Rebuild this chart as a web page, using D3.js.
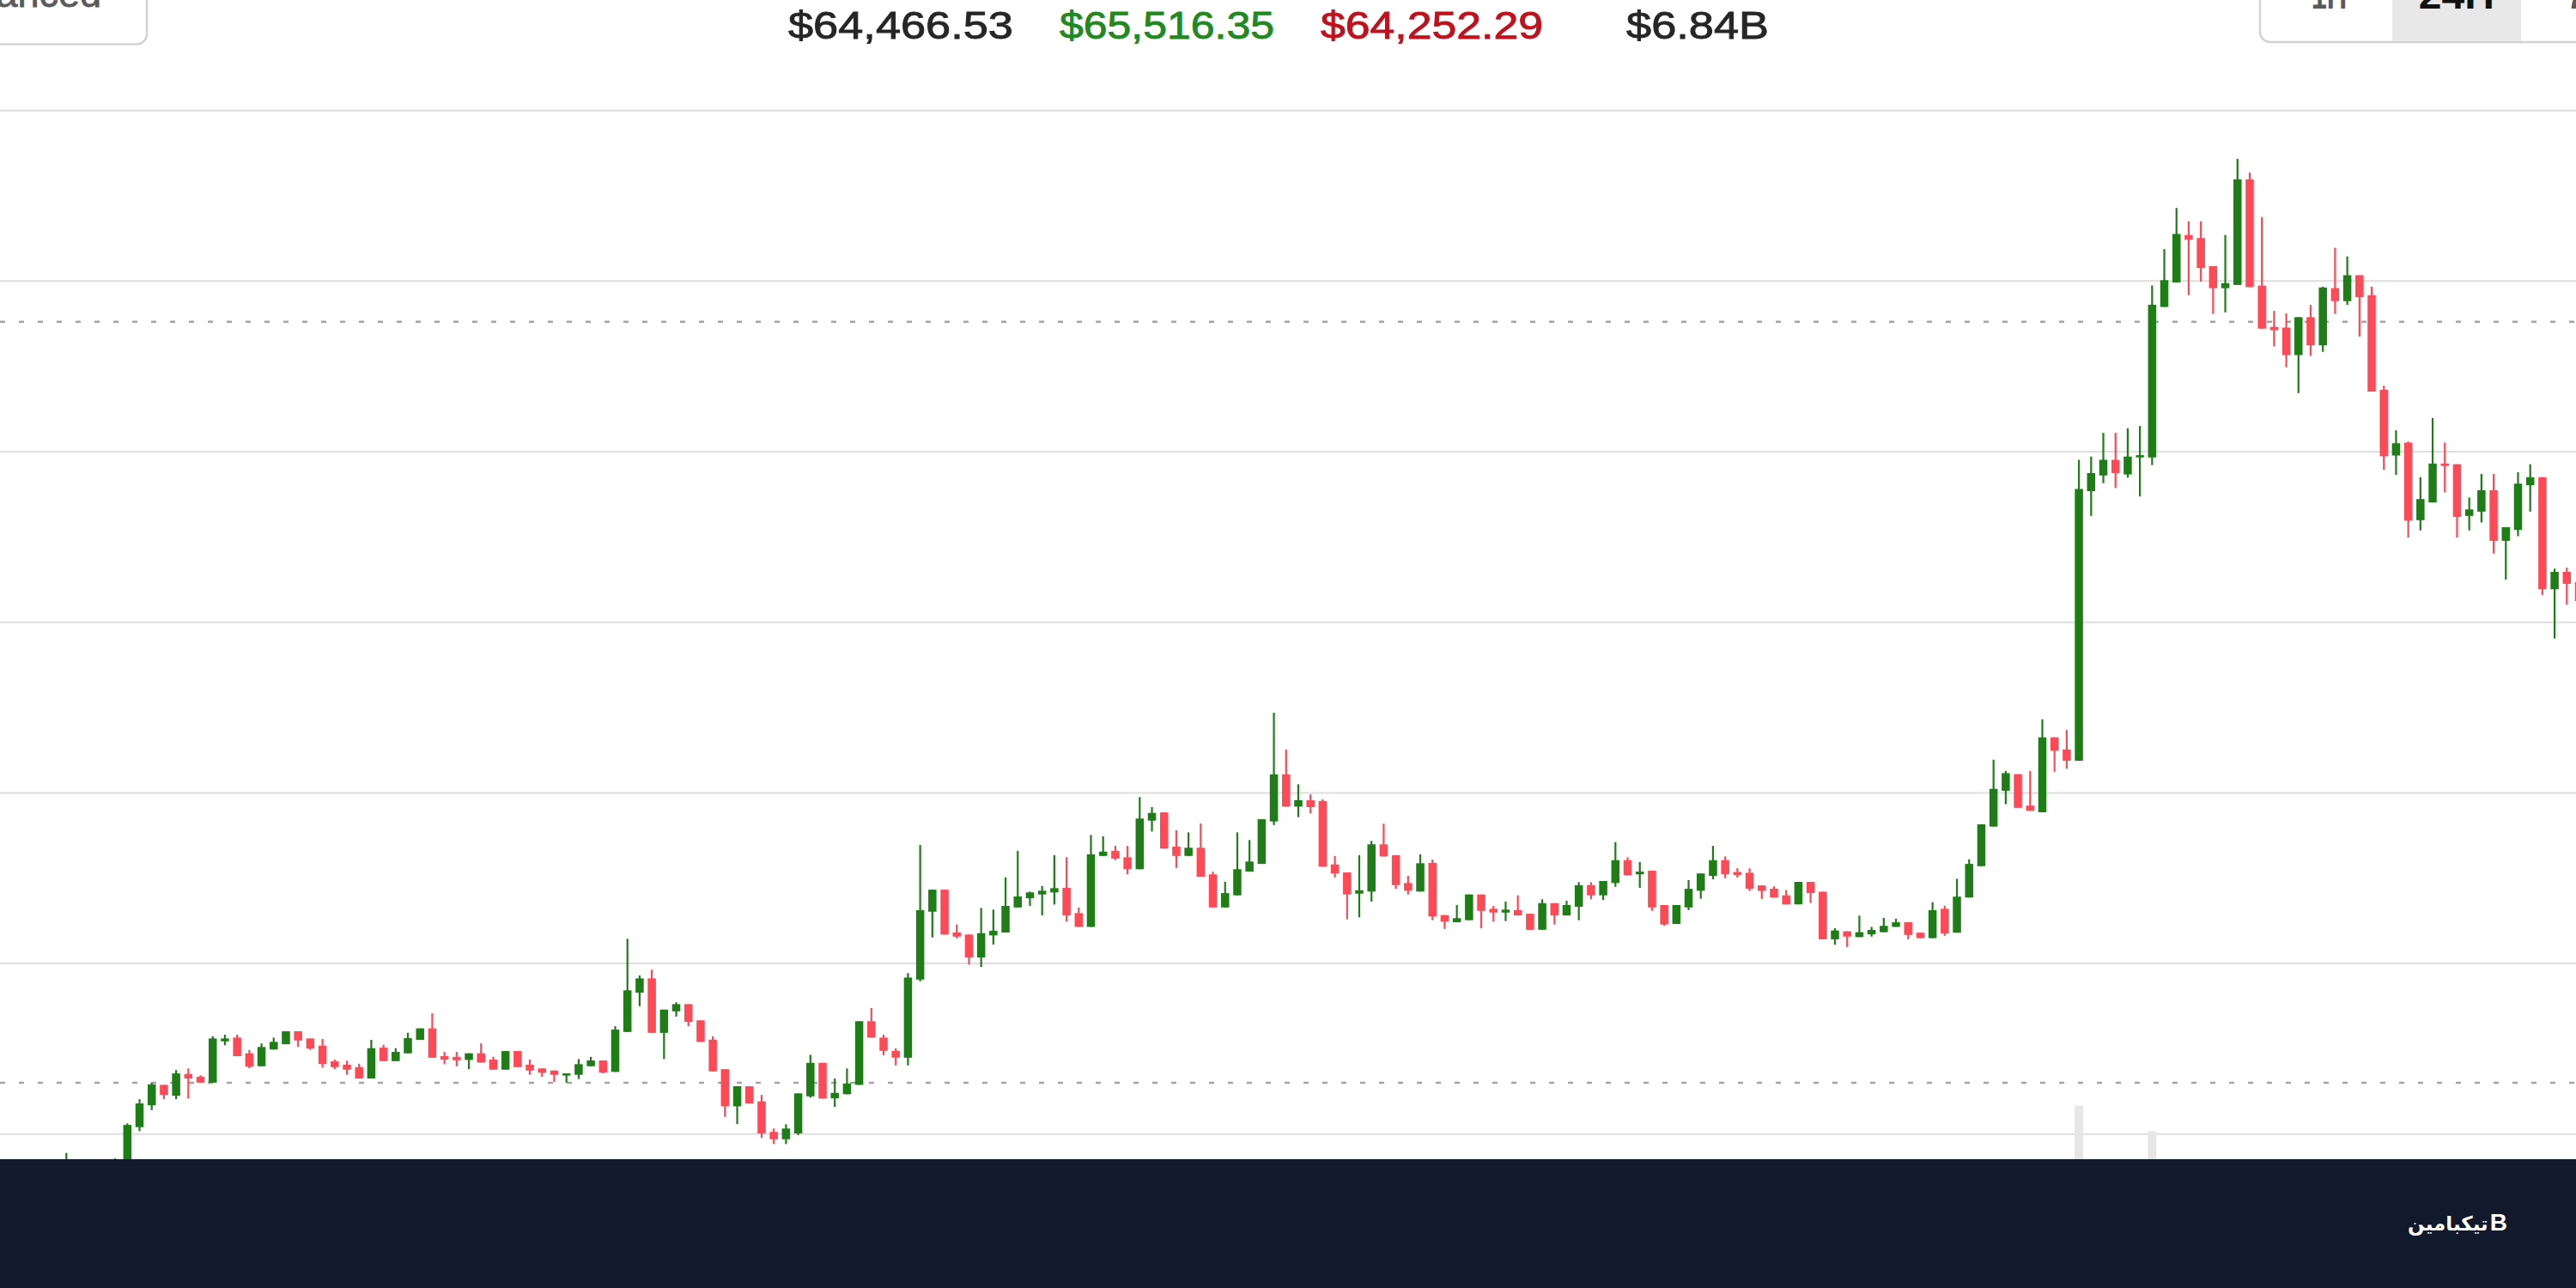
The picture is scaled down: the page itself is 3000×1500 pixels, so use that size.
<!DOCTYPE html>
<html>
<head>
<meta charset="utf-8">
<script src="https://cdn.jsdelivr.net/npm/d3@7"></script>
<style>
  html, body { margin: 0; padding: 0; background: #fff; overflow: hidden; }
  #chart { width: 3000px; height: 1500px; }
  text { font-family: "Liberation Sans", Arial, Helvetica, sans-serif; }
</style>
</head>
<body>
<div id="chart"></div>
<script>
// OHLC per candle (first ten sit under the footer band)
const opens = [
  64905, 64900, 64908, 64915, 64910, 64918, 64930, 64920, 64925, 64918,
  64928, 64953.8, 64966.6, 64978.6, 64972.2, 64985.0, 64983.3, 64979.9, 65004.1, 65006.3,
  64997.1, 64989.5, 64999.3, 65002.4, 65010.0, 65005.8, 65001.6, 64992.4, 64990.4, 64989.0,
  64982.3, 65000.4, 64992.5, 64997.1, 65005.0, 65011.7, 64995.4, 64995.0, 64993.2, 64997.1,
  64993.4, 64987.5, 64998.4, 64990.4, 64988.2, 64987.0, 64984.2, 64984.5, 64989.5, 64992.9,
  64986.2, 65009.6, 65032.6, 65041.0, 65009.1, 65021.7, 65025.9, 65016.4, 65005.1, 64987.8,
  64966.0, 64977.8, 64968.9, 64951.0, 64946.7, 64950.1, 64971.9, 64991.5, 64970.7, 64973.1,
  64978.6, 65015.9, 65006.3, 64998.5, 64994.5, 65040.3, 65080.1, 65093.0, 65067.9, 65066.7,
  65053.3, 65066.2, 65067.9, 65082.6, 65088.0, 65090.2, 65091.4, 65094.1, 65079.3, 65071.2,
  65112.8, 65115.8, 65112.0, 65105.0, 65133.5, 65138.3, 65118.2, 65112.8, 65117.6, 65102.0,
  65082.6, 65089.7, 65103.6, 65108.1, 65133.0, 65160.6, 65141.7, 65145.4, 65145.0, 65107.8,
  65103.1, 65090.7, 65091.9, 65119.6, 65113.2, 65096.9, 65091.9, 65108.7, 65078.1, 65073.9,
  65075.1, 65090.2, 65081.8, 65079.6, 65081.0, 65078.9, 65069.5, 65085.1, 65077.9, 65083.0,
  65095.7, 65089.7, 65096.9, 65110.3, 65102.0, 65104.1, 65084.0, 65072.9, 65082.6, 65092.4,
  65101.1, 65110.3, 65103.4, 65102.9, 65095.5, 65093.6, 65089.7, 65084.4, 65097.6, 65091.8,
  65063.9, 65068.6, 65065.2, 65066.8, 65068.1, 65071.2, 65073.9, 65067.8, 65064.6, 65081.8,
  65067.8, 65088.4, 65106.8, 65130.0, 65151.0, 65160.7, 65142.3, 65138.4, 65182.3, 65175.2,
  65168.6, 65326.6, 65335.8, 65345.0, 65336.4, 65346.4, 65346.4, 65434.6, 65449.0, 65476.8,
  65475.0, 65458.5, 65445.6, 65447.5, 65509.4, 65447.1, 65422.9, 65422.5, 65406.4, 65428.6,
  65412.1, 65445.6, 65438.0, 65453.2, 65441.5, 65386.0, 65347.5, 65355.1, 65309.6, 65320.0,
  65342.8, 65342.4, 65312.1, 65314.6, 65327.2, 65297.5, 65303.9, 65330.1, 65334.8, 65269.1,
  65279.3, 65273.3
]
const highs = [
  64915, 64912, 64920, 64925, 64922, 64938.7, 64933, 64928, 64930, 64935.5,
  64956, 64970.2, 64979.8, 64978.6, 64987.3, 64988.2, 64984.2, 65007.1, 65008.0, 65008.0,
  64999.1, 65002.9, 65006.3, 65010.0, 65010.0, 65005.8, 65005.5, 64993.4, 64992.7, 64991.0,
  65005.0, 65002.1, 65000.1, 65009.1, 65011.7, 65020.6, 64997.9, 64997.9, 64997.1, 65002.9,
  64995.0, 64998.4, 64998.4, 64993.4, 64988.2, 64987.0, 64985.3, 64993.7, 64995.0, 64992.9,
  65013.0, 65064.2, 65042.7, 65046.1, 65022.7, 65027.0, 65025.9, 65016.4, 65007.1, 64987.8,
  64977.8, 64977.8, 64972.7, 64953.0, 64955.5, 64973.6, 64996.2, 64991.5, 64982.3, 64988.2,
  65015.9, 65023.6, 65008.0, 65000.0, 65044.1, 65119.2, 65093.0, 65093.0, 65072.6, 65066.7,
  65082.3, 65081.3, 65100.2, 65115.8, 65091.9, 65095.2, 65113.2, 65112.0, 65082.6, 65125.1,
  65124.3, 65118.7, 65118.7, 65147.3, 65141.4, 65138.3, 65127.9, 65126.6, 65131.8, 65103.6,
  65097.7, 65126.6, 65122.1, 65134.3, 65196.7, 65175.2, 65154.8, 65148.9, 65146.0, 65112.8,
  65103.1, 65113.2, 65121.6, 65131.7, 65113.2, 65101.1, 65113.7, 65110.7, 65078.1, 65084.0,
  65090.2, 65090.2, 65083.5, 65086.0, 65089.7, 65078.9, 65087.4, 65085.1, 65086.5, 65097.4,
  65097.4, 65098.1, 65120.9, 65112.0, 65109.2, 65104.1, 65084.0, 65084.0, 65098.6, 65102.5,
  65118.7, 65112.5, 65105.6, 65105.5, 65095.5, 65095.0, 65092.8, 65097.6, 65097.6, 65091.8,
  65070.4, 65068.6, 65077.8, 65071.2, 65076.5, 65076.0, 65073.9, 65067.8, 65085.7, 65083.6,
  65099.4, 65110.8, 65131.3, 65169.2, 65162.6, 65160.7, 65162.6, 65192.9, 65182.3, 65186.6,
  65345.0, 65346.9, 65360.8, 65360.8, 65363.5, 65364.8, 65447.2, 65468.5, 65492.6, 65484.8,
  65484.8, 65458.5, 65476.8, 65521.4, 65513.4, 65487.3, 65432.3, 65430.8, 65428.6, 65435.8,
  65446.5, 65469.3, 65464.2, 65453.2, 65446.5, 65388.4, 65362.3, 65355.7, 65334.8, 65369.5,
  65355.1, 65342.4, 65322.9, 65336.7, 65336.7, 65305.5, 65337.7, 65342.4, 65334.8, 65281.2,
  65281.8, 65276.0
]
const lows = [
  64895, 64890, 64900, 64905, 64902, 64912, 64915, 64910, 64912, 64915,
  64926, 64951.5, 64963.8, 64970.2, 64970.2, 64970.6, 64979.9, 64979.9, 65001.8, 64995.4,
  64988.3, 64989.5, 64999.3, 65002.4, 65000.9, 64999.1, 64988.7, 64987.8, 64984.5, 64982.3,
  64982.3, 64992.5, 64992.5, 64997.1, 65005.0, 64994.5, 64990.7, 64989.5, 64987.8, 64991.7,
  64987.5, 64987.5, 64989.0, 64984.5, 64983.3, 64980.3, 64979.9, 64982.0, 64989.5, 64985.3,
  64986.2, 65009.6, 65024.7, 65009.1, 64993.7, 65018.6, 65013.0, 65003.8, 64986.5, 64959.8,
  64955.6, 64967.7, 64947.6, 64943.9, 64943.9, 64949.2, 64971.1, 64970.6, 64965.7, 64973.1,
  64978.6, 65006.3, 64996.0, 64990.0, 64990.0, 65039.3, 65065.0, 65066.7, 65064.5, 65049.1,
  65047.7, 65060.8, 65067.9, 65082.6, 65083.5, 65077.9, 65084.3, 65074.3, 65071.2, 65071.2,
  65112.8, 65110.3, 65102.0, 65105.0, 65127.1, 65117.1, 65105.8, 65112.8, 65100.6, 65082.6,
  65082.6, 65089.7, 65103.6, 65108.1, 65130.9, 65141.7, 65135.5, 65137.7, 65106.5, 65100.2,
  65075.6, 65076.8, 65086.0, 65112.5, 65093.5, 65090.2, 65091.9, 65075.1, 65070.0, 65073.9,
  65075.1, 65070.5, 65074.3, 65074.6, 65077.9, 65069.5, 65069.5, 65072.6, 65077.9, 65075.1,
  65087.4, 65086.9, 65094.7, 65101.4, 65094.1, 65080.6, 65071.8, 65072.9, 65081.0, 65087.7,
  65099.1, 65099.7, 65100.1, 65092.3, 65087.6, 65088.4, 65084.4, 65084.4, 65085.2, 65063.9,
  65060.7, 65059.4, 65065.2, 65065.5, 65068.1, 65071.2, 65063.9, 65064.6, 65064.6, 65066.0,
  65067.8, 65088.4, 65106.8, 65130.0, 65143.1, 65141.0, 65139.2, 65138.4, 65162.1, 65163.9,
  65168.6, 65312.1, 65331.3, 65328.5, 65334.5, 65323.5, 65341.9, 65434.6, 65449.0, 65441.5,
  65449.4, 65430.5, 65431.4, 65447.5, 65446.2, 65421.9, 65411.5, 65399.2, 65384.1, 65405.9,
  65408.3, 65430.5, 65435.8, 65417.2, 65385.0, 65339.2, 65336.2, 65299.4, 65303.6, 65320.0,
  65325.9, 65299.4, 65303.6, 65308.3, 65290.0, 65274.8, 65300.2, 65314.6, 65265.7, 65240.2,
  65260.0, 65258.0
]
const closes = [
  64900, 64908, 64915, 64910, 64918, 64930, 64920, 64925, 64918, 64928,
  64955.1, 64967.7, 64978.9, 64972.7, 64985.3, 64982.3, 64979.9, 65005.8, 65005.8, 64995.4,
  64989.2, 65000.8, 65003.8, 65010.0, 65004.6, 64999.9, 64990.9, 64989.0, 64987.5, 64982.3,
  65000.1, 64992.5, 64997.9, 65006.0, 65011.7, 64994.5, 64993.4, 64993.0, 64997.1, 64991.7,
  64987.5, 64998.4, 64989.0, 64987.0, 64985.7, 64984.5, 64985.3, 64990.7, 64992.9, 64985.8,
  65011.0, 65034.0, 65041.0, 65009.1, 65022.7, 65025.9, 65015.5, 65003.8, 64986.5, 64966.0,
  64977.8, 64967.7, 64950.1, 64946.7, 64953.0, 64973.6, 64991.5, 64970.6, 64973.9, 64979.4,
  65015.9, 65006.3, 64998.5, 64994.5, 65041.5, 65081.0, 65093.0, 65066.7, 65065.5, 65053.3,
  65067.5, 65068.9, 65083.5, 65089.0, 65091.4, 65092.4, 65093.9, 65077.9, 65071.2, 65113.7,
  65115.3, 65111.2, 65105.0, 65134.7, 65138.0, 65117.1, 65112.8, 65117.6, 65100.6, 65082.6,
  65091.0, 65105.0, 65109.5, 65134.3, 65160.6, 65141.7, 65145.5, 65141.4, 65106.5, 65102.5,
  65090.2, 65092.7, 65119.6, 65112.5, 65095.7, 65092.4, 65108.5, 65077.3, 65074.3, 65076.3,
  65090.2, 65080.6, 65079.6, 65081.3, 65077.9, 65069.5, 65085.1, 65077.9, 65084.0, 65095.6,
  65089.7, 65098.1, 65110.3, 65101.4, 65103.6, 65082.6, 65072.6, 65084.0, 65093.5, 65102.5,
  65110.3, 65102.0, 65101.6, 65093.6, 65092.3, 65088.4, 65084.4, 65097.6, 65091.0, 65063.9,
  65069.1, 65065.5, 65068.1, 65069.4, 65071.8, 65073.9, 65066.5, 65064.6, 65081.0, 65067.3,
  65088.9, 65108.1, 65131.3, 65152.1, 65161.3, 65141.0, 65139.2, 65182.3, 65174.4, 65168.6,
  65327.9, 65337.2, 65345.0, 65337.2, 65346.9, 65347.7, 65435.9, 65450.3, 65477.4, 65474.0,
  65457.4, 65445.6, 65448.5, 65509.4, 65446.2, 65421.9, 65421.0, 65406.4, 65428.6, 65412.1,
  65446.0, 65438.0, 65453.2, 65440.3, 65385.0, 65347.1, 65354.7, 65309.3, 65322.0, 65342.8,
  65341.4, 65311.5, 65315.9, 65327.2, 65297.5, 65305.5, 65331.0, 65334.8, 65269.1, 65279.3,
  65272.3, 65262.2
]
const volumes = [
  420, 380, 350, 310, 290, 360, 280, 250, 300, 330, 610, 540, 470, 320, 430, 360, 240, 520, 260, 390,
  330, 310, 270, 250, 240, 260, 350, 220, 230, 260, 410, 300, 230, 290, 240, 460, 210, 200, 230, 280,
  240, 260, 250, 220, 200, 210, 190, 260, 230, 250, 480, 820, 410, 520, 440, 260, 300, 330, 420, 560,
  470, 380, 520, 330, 290, 460, 520, 480, 310, 350, 640, 420, 360, 300, 690, 870, 430, 520, 260, 400,
  450, 380, 420, 410, 220, 250, 330, 470, 330, 610, 280, 260, 320, 540, 300, 420, 360, 300, 440, 470,
  320, 460, 350, 480, 760, 520, 330, 300, 560, 310, 420, 400, 520, 380, 410, 290, 430, 560, 270, 250,
  320, 330, 220, 240, 260, 300, 360, 290, 250, 380, 280, 300, 420, 330, 280, 470, 380, 350, 330, 320,
  380, 310, 230, 300, 240, 230, 250, 330, 270, 520, 260, 230, 280, 210, 230, 220, 300, 220, 420, 360,
  460, 520, 580, 640, 430, 520, 360, 700, 470, 440, 1448, 760, 620, 580, 560, 610, 1246, 820, 760, 640,
  620, 560, 530, 900, 880, 740, 420, 560, 600, 520, 610, 540, 480, 560, 780, 720, 460, 740, 500, 620,
  420, 560, 380, 440, 600, 480, 560, 400, 720, 520, 380, 420
]

const grid_prices = [65550, 65450, 65350, 65250, 65150, 65050, 64950]
const marker_prices = [65425.9, 64979.8]
const stat_labels = ["$64,466.53", "$65,516.35", "$64,252.29", "$6.84B"]
const range_labels = ["1H", "24H", "7D"]
const brand_name = "تیکبامین"

const width = 3000, height = 1500
const up_color = "#1e7d16", down_color = "#fd4a56"

const svg = d3.select("#chart")
    .append("svg")
    .attr("width", width)
    .attr("height", height)

svg.append("rect")
    .attr("width", width)
    .attr("height", height)
    .attr("fill", "#ffffff")

const x = d3.scaleLinear()
    .domain([0, opens.length - 1])
    .range([6.25, 6.25 + (opens.length - 1) * 14.205])
const y = d3.scaleLinear()
    .domain([64850, 65550])
    .range([1518.9, 128.2])
const y_vol = d3.scaleLinear()
    .domain([0, 1500])
    .range([1500, 1280])

// horizontal grid
const grid = svg.append("g")
    .call(d3.axisLeft(y)
        .tickValues(grid_prices)
        .tickSizeInner(-width)
        .tickSizeOuter(0)
        .tickFormat(""))
grid.select(".domain").remove()
grid.selectAll("line")
    .attr("stroke", "#dedede")
    .attr("stroke-width", 2)

// price marker lines
svg.append("g")
    .selectAll("line")
    .data(marker_prices)
    .join("line")
    .attr("x1", 0)
    .attr("x2", width)
    .attr("y1", d => y(d))
    .attr("y2", d => y(d))
    .attr("stroke", "#a4a4a4")
    .attr("stroke-width", 2.5)
    .attr("stroke-dasharray", "6 16")

// volume bars
svg.append("g")
    .selectAll("rect")
    .data(volumes)
    .join("rect")
    .attr("x", (d, i) => x(i) - 5)
    .attr("width", 10)
    .attr("y", d => y_vol(d))
    .attr("height", d => y_vol(0) - y_vol(d))
    .attr("fill", "#e6e6e6")

// candles
const candles = svg.append("g")
    .selectAll("g")
    .data(opens.map((o, i) => ({i: i, o: o, h: highs[i], l: lows[i], c: closes[i]})))
    .join("g")
    .attr("fill", d => d.c >= d.o ? up_color : down_color)
    .attr("stroke", d => d.c >= d.o ? up_color : down_color)

candles.append("line")
    .attr("x1", d => x(d.i))
    .attr("x2", d => x(d.i))
    .attr("y1", d => y(d.h))
    .attr("y2", d => y(d.l))
    .attr("stroke-width", 2.2)

candles.append("rect")
    .attr("x", d => x(d.i) - 4.75)
    .attr("width", 9.5)
    .attr("y", d => y(Math.max(d.o, d.c)))
    .attr("height", d => Math.max(2.5, Math.abs(y(d.o) - y(d.c))))
    .attr("stroke", "none")

// header: cut-off button on the left
svg.append("rect")
    .attr("x", -30)
    .attr("y", -40)
    .attr("width", 201)
    .attr("height", 91.5)
    .attr("rx", 12)
    .attr("fill", "#ffffff")
    .attr("stroke", "#d2d2d2")
    .attr("stroke-width", 2.5)
svg.append("text")
    .text("Advanced")
    .attr("x", 118)
    .attr("y", 8)
    .attr("text-anchor", "end")
    .style("font-size", "45px")
    .attr("fill", "#5a5a5a")
    .attr("stroke", "#5a5a5a")
    .attr("stroke-width", 0.8)

// header stats
const stat_x = [918, 1234, 1538, 1894]
const stat_w = [262, 250, 259, 166]
const stat_colors = ["#262626", "#22891f", "#c0111c", "#262626"]
svg.append("g")
    .selectAll("text")
    .data(stat_labels)
    .join("text")
    .text(d => d)
    .attr("x", (d, i) => stat_x[i])
    .attr("y", 45)
    .attr("textLength", (d, i) => stat_w[i])
    .attr("lengthAdjust", "spacingAndGlyphs")
    .style("font-size", "45px")
    .attr("fill", (d, i) => stat_colors[i])
    .attr("stroke", (d, i) => stat_colors[i])
    .attr("stroke-width", 0.9)

// header: range selector on the right
svg.append("rect")
    .attr("x", 2632)
    .attr("y", -40)
    .attr("width", 500)
    .attr("height", 89)
    .attr("rx", 12)
    .attr("fill", "#ffffff")
    .attr("stroke", "#d2d2d2")
    .attr("stroke-width", 2.5)
svg.append("rect")
    .attr("x", 2786)
    .attr("y", -40)
    .attr("width", 150)
    .attr("height", 87.8)
    .attr("fill", "#e8e8e8")
const range_x = [2691.7, 2816.7, 2988]
const range_w = [41.6, 88.3, 60]
svg.append("g")
    .selectAll("text")
    .data(range_labels)
    .join("text")
    .text(d => d)
    .attr("x", (d, i) => range_x[i])
    .attr("y", 10)
    .attr("textLength", (d, i) => range_w[i])
    .attr("lengthAdjust", "spacingAndGlyphs")
    .style("font-size", "45px")
    .style("font-weight", "bold")
    .attr("fill", d => d === "24H" ? "#111111" : "#5a5a5a")

// footer band with logo (one text: name + B mark)
svg.append("rect")
    .attr("x", 0)
    .attr("y", 1350)
    .attr("width", width)
    .attr("height", 150)
    .attr("fill", "#111a2c")
const logo = svg.append("text")
    .attr("x", 2920)
    .attr("y", 1433)
    .attr("text-anchor", "end")
    .style("font-weight", "bold")
    .attr("fill", "#ffffff")
logo.append("tspan")
    .text(brand_name)
    .style("font-family", "'DejaVu Sans', 'Noto Sans', sans-serif")
    .style("font-size", "23px")
logo.append("tspan")
    .text("B")
    .attr("dx", 2)
    .style("font-size", "28px")
</script>
</body>
</html>
